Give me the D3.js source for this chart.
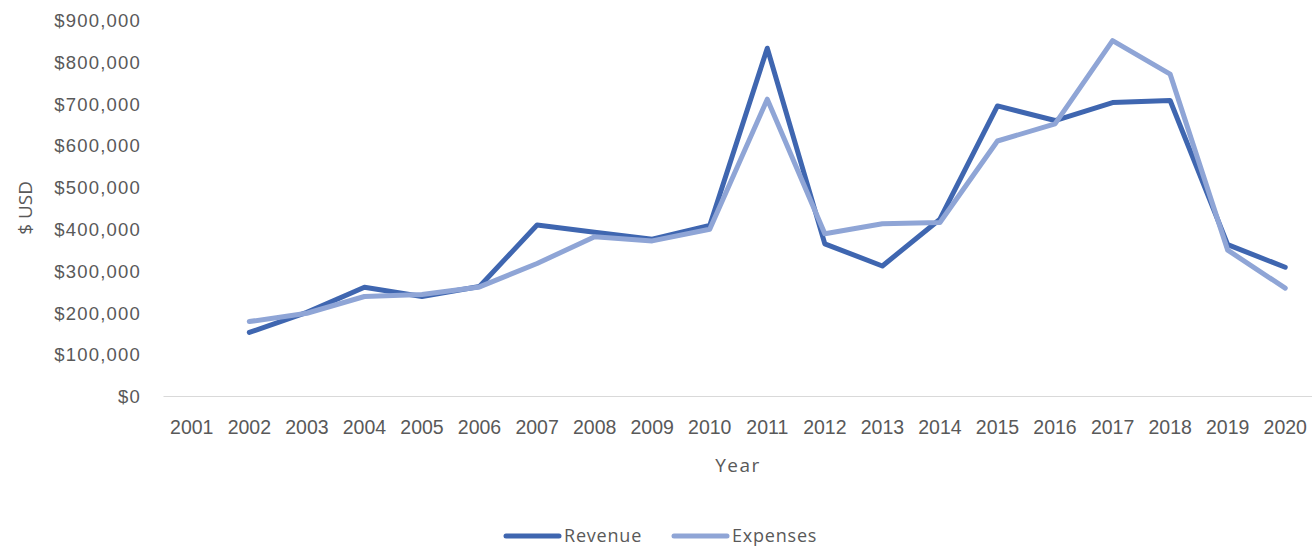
<!DOCTYPE html>
<html>
<head>
<meta charset="utf-8">
<script src="https://cdn.jsdelivr.net/npm/d3@7/dist/d3.min.js"></script>
<style>
  html, body { margin: 0; padding: 0; background: #ffffff; }
  svg { display: block; font-family: "Open Sans", "Noto Sans", sans-serif; }
</style>
</head>
<body>
<svg id="chart" width="1312" height="548"></svg>
<script>
// Annual revenue and expenses, USD
const years = ["2001","2002","2003","2004","2005","2006","2007","2008","2009","2010",
               "2011","2012","2013","2014","2015","2016","2017","2018","2019","2020"];
const revenue = [null, 152000, 200000, 260000, 238000, 262000, 409000, 392000, 375000, 408000,
                 832000, 364000, 311000, 423000, 694000, 659000, 702000, 707000, 362000, 308000];
const expenses = [null, 178000, 198000, 238000, 243000, 261000, 317000, 381000, 371000, 399000,
                  710000, 388000, 412000, 415000, 610000, 651000, 850000, 770000, 349000, 258000];
const yTicks = [0, 100000, 200000, 300000, 400000, 500000, 600000, 700000, 800000, 900000];
const seriesNames = ["Revenue", "Expenses"];
const seriesColors = ["#3f66b0", "#8fa5d6"];

const svg = d3.select("#chart");
const plot = { left: 163, right: 1314, top: 19.8, bottom: 396 };

const x = d3.scaleBand().domain(years).range([plot.left, plot.right]).padding(0);
const y = d3.scaleLinear().domain([0, 900000]).range([plot.bottom, plot.top]);
const cx = yr => x(yr) + x.bandwidth() / 2;

const fmt = v => "$" + d3.format(",")(v);

// Y axis: labels only
const yAxis = svg.append("g")
  .attr("transform", `translate(${plot.left},0)`)
  .call(d3.axisLeft(y).tickValues(yTicks).tickFormat(fmt).tickSize(0).tickPadding(22));
yAxis.select(".domain").remove();
yAxis.selectAll("text")
  .attr("fill", "#595959")
  .style("font-size", "18.5px")
  .style("letter-spacing", "1.2px")
  .attr("dy", "0.36em");

// X axis: category labels and the baseline
const xAxis = svg.append("g")
  .attr("transform", `translate(0,${plot.bottom})`)
  .call(d3.axisBottom(x).tickSize(0).tickPadding(24));
xAxis.select(".domain").attr("stroke", "#d9d9d9").attr("stroke-width", 1.2);
xAxis.selectAll("text")
  .attr("fill", "#595959")
  .style("font-size", "19.5px")
  .attr("dy", "0.71em");

// Axis titles
svg.append("text")
  .attr("x", 738).attr("y", 472)
  .attr("text-anchor", "middle")
  .attr("fill", "#595959")
  .style("font-size", "19px")
  .style("letter-spacing", "1.5px")
  .text("Year");

svg.append("text")
  .attr("transform", `translate(32,${(plot.top + plot.bottom) / 2}) rotate(-90)`)
  .attr("text-anchor", "middle")
  .attr("fill", "#595959")
  .style("font-size", "19px")
  .text("$ USD");

// Series lines
const line = d3.line()
  .defined(d => d.v != null)
  .x(d => cx(d.year))
  .y(d => y(d.v));

[revenue, expenses].forEach((vals, i) => {
  const pts = years.map((yr, j) => ({ year: yr, v: vals[j] }));
  svg.append("path")
    .datum(pts)
    .attr("fill", "none")
    .attr("stroke", seriesColors[i])
    .attr("stroke-width", 5)
    .attr("stroke-linejoin", "round")
    .attr("stroke-linecap", "round")
    .attr("d", line);
});

// Legend
const legendY = 536;
const legendItems = [
  { name: seriesNames[0], color: seriesColors[0], x0: 506 },
  { name: seriesNames[1], color: seriesColors[1], x0: 674 }
];
const lg = svg.append("g");
legendItems.forEach(it => {
  lg.append("line")
    .attr("x1", it.x0).attr("x2", it.x0 + 53)
    .attr("y1", legendY).attr("y2", legendY)
    .attr("stroke", it.color)
    .attr("stroke-width", 5)
    .attr("stroke-linecap", "round");
  lg.append("text")
    .attr("x", it.x0 + 58).attr("y", legendY)
    .attr("dy", "0.35em")
    .attr("fill", "#595959")
    .style("font-size", "18px")
    .style("letter-spacing", "0.8px")
    .text(it.name);
});
</script>
</body>
</html>
